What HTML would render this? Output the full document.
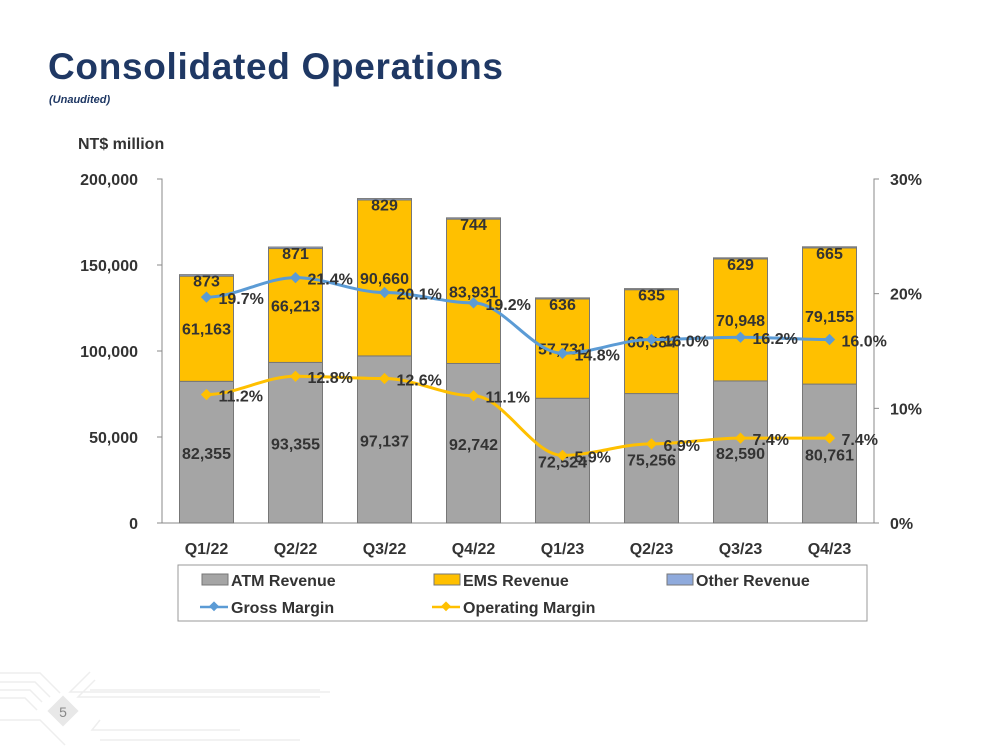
<!DOCTYPE html>
<html><head><meta charset="utf-8"><style>
body{margin:0;width:1000px;height:752px;background:#fff;overflow:hidden;font-family:"Liberation Sans",sans-serif}
</style></head><body>
<svg width="1000" height="752" style="position:absolute;left:0;top:0">
<g stroke="#eee" stroke-width="1.5" fill="none">
<path d="M0 673H40L60 693M0 682H35L50 697M0 690H30L42 702M0 698H25L37 710M0 720H40L65 745M90 672L70 692H330M95 680L78 697H320M90 690H320M100 720L92 730H220M100 730H240M100 740H300"/>
</g>
<rect x="52" y="700" width="22" height="22" transform="rotate(45 63 711)" fill="#e8e8e8"/>
<text x="63" y="717" font-size="14" fill="#888" text-anchor="middle">5</text>
<text x="48" y="79" font-size="37" font-weight="bold" fill="#1f3864" textLength="455">Consolidated Operations</text>
<text x="49" y="103" font-size="11" font-style="italic" font-weight="bold" fill="#1f3864">(Unaudited)</text>
<text x="78" y="149" font-size="16" font-weight="bold" fill="#333">NT$ million</text>
<g id="chart"></g>
<g>
<rect x="178" y="565" width="689" height="56" fill="none" stroke="#999"/>
<rect x="202" y="574" width="26" height="11" fill="#a5a5a5" stroke="#777"/>
<text x="231" y="586" font-size="16" font-weight="bold" fill="#333">ATM Revenue</text>
<rect x="434" y="574" width="26" height="11" fill="#ffc000" stroke="#777"/>
<text x="463" y="586" font-size="16" font-weight="bold" fill="#333">EMS Revenue</text>
<rect x="667" y="574" width="26" height="11" fill="#8faadc" stroke="#777"/>
<text x="696" y="586" font-size="16" font-weight="bold" fill="#333">Other Revenue</text>
<line x1="200" y1="607" x2="228" y2="607" stroke="#5b9bd5" stroke-width="2.5"/><rect x="210" y="603" width="7" height="7" fill="#5b9bd5" transform="rotate(45 214 607)"/>
<text x="231" y="613" font-size="16" font-weight="bold" fill="#333">Gross Margin</text>
<line x1="432" y1="607" x2="460" y2="607" stroke="#ffc000" stroke-width="2.5"/><rect x="442" y="603" width="7" height="7" fill="#ffc000" transform="rotate(45 446 607)"/>
<text x="463" y="613" font-size="16" font-weight="bold" fill="#333">Operating Margin</text>
</g>
</svg>
<script>
const categories=["Q1/22","Q2/22","Q3/22","Q4/22","Q1/23","Q2/23","Q3/23","Q4/23"];
const atm=[82355,93355,97137,92742,72524,75256,82590,80761];
const ems=[61163,66213,90660,83931,57731,60384,70948,79155];
const other=[873,871,829,744,636,635,629,665];
const gross=[19.7,21.4,20.1,19.2,14.8,16.0,16.2,16.0];
const operating=[11.2,12.8,12.6,11.1,5.9,6.9,7.4,7.4];
const leftTicks=[0,50000,100000,150000,200000];
const rightTicks=[0,10,20,30];
const NS="http://www.w3.org/2000/svg";
const g=document.getElementById('chart');
const X0=162,X1=874,Y0=523,Y1=179,bw=54;
const xc=i=>X0+(X1-X0)/categories.length*(i+0.5);
const yv=v=>Y0-(Y0-Y1)*v/200000;
const yp=p=>Y0-(Y0-Y1)*p/30;
const fmt=v=>v.toLocaleString('en-US');
function el(t,a,txt){const e=document.createElementNS(NS,t);for(const k in a)e.setAttribute(k,a[k]);if(txt!==undefined)e.textContent=txt;g.appendChild(e);return e;}
let ax=el('path',{d:`M${X0-5} ${Y1}H${X0}V${Y0}H${X1}V${Y1}H${X1+5}`,stroke:'#888',fill:'none'});

leftTicks.forEach(t=>{el('line',{x1:X0-5,x2:X0,y1:yv(t),y2:yv(t),stroke:'#888'});
let e=el('text',{x:X0-24,y:yv(t)+6,'font-size':16,'font-weight':'bold',fill:'#333','text-anchor':'end'},fmt(t));
});
rightTicks.forEach(t=>{el('line',{x1:X1,x2:X1+5,y1:yp(t),y2:yp(t),stroke:'#888'});
let e=el('text',{x:X1+16,y:yp(t)+6,'font-size':16,'font-weight':'bold',fill:'#333'},t+'%');
});
categories.forEach((c,i)=>{
 const x=xc(i)-bw/2;
 let a=el('rect',{x:x,y:yv(atm[i]),width:bw,height:Y0-yv(atm[i]),fill:'#a5a5a5',stroke:'#777'});
 
 let b=el('rect',{x:x,y:yv(atm[i]+ems[i]),width:bw,height:yv(atm[i])-yv(atm[i]+ems[i]),fill:'#ffc000',stroke:'#777'});
 
 let o=el('rect',{x:x,y:yv(atm[i]+ems[i]+other[i]),width:bw,height:yv(atm[i]+ems[i])-yv(atm[i]+ems[i]+other[i]),fill:'#8faadc',stroke:'#777'});
 
 const st={'font-size':16,'font-weight':'bold',fill:'#333','text-anchor':'middle'};
 let t1=el('text',Object.assign({x:xc(i),y:(Y0+yv(atm[i]))/2+7},st),fmt(atm[i]));
 
 let t2=el('text',Object.assign({x:xc(i),y:(yv(atm[i])+yv(atm[i]+ems[i]))/2+6},st),fmt(ems[i]));
 
 let t3=el('text',Object.assign({x:xc(i),y:yv(atm[i]+ems[i]+other[i])+12},st),fmt(other[i]));
 
 let xl=el('text',Object.assign({x:xc(i),y:Y0+31},st),c);
 
});
function line(vals,color,name){
 let d='';vals.forEach((v,i)=>{const x=xc(i),y=yp(v);
  if(i==0)d=`M${x} ${y}`;else{const px=xc(i-1),py=yp(vals[i-1]);d+=` C${px+30} ${py} ${x-30} ${y} ${x} ${y}`;}});
 let p=el('path',{d:d,stroke:color,'stroke-width':3,fill:'none'});
 
 vals.forEach((v,i)=>{
  let m=el('rect',{x:xc(i)-4,y:yp(v)-4,width:8,height:8,fill:color,transform:`rotate(45 ${xc(i)} ${yp(v)})`});
  
  let t=el('text',{x:xc(i)+12,y:yp(v)+7,'font-size':16,'font-weight':'bold',fill:'#333'},v.toFixed(1)+'%');
  
 });
}
line(gross,'#5b9bd5','gross-margin');
line(operating,'#ffc000','operating-margin');
</script>
</body></html>
